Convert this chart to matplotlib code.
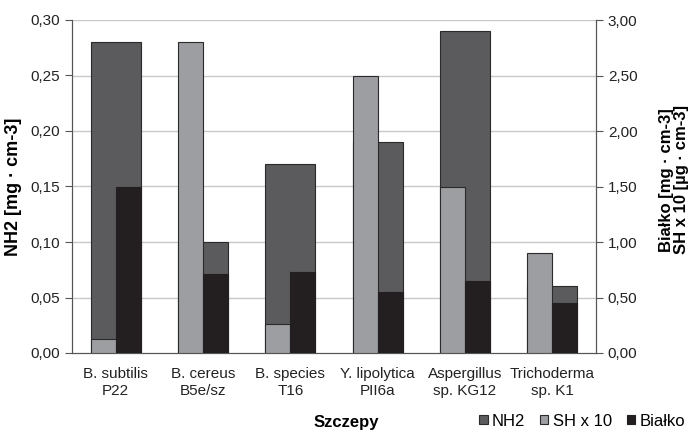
import matplotlib
matplotlib.use("Agg")
import matplotlib.pyplot as plt
import numpy as np
from matplotlib.ticker import FuncFormatter, MultipleLocator

plt.rcParams['font.family'] = ['Liberation Sans', 'DejaVu Sans']

categories = ["B. subtilis\nP22", "B. cereus\nB5e/sz", "B. species\nT16",
              "Y. lipolytica\nPII6a", "Aspergillus\nsp. KG12", "Trichoderma\nsp. K1"]
nh2 = [0.28, 0.10, 0.17, 0.19, 0.29, 0.06]
sh_x10 = [0.13, 2.80, 0.26, 2.50, 1.50, 0.90]
bialko = [1.50, 0.71, 0.73, 0.55, 0.65, 0.45]

c_nh2 = "#5b5b5d"
c_sh = "#9d9ea1"
c_bi = "#231f20"
edge = "#2a2a2a"

fig = plt.figure(figsize=(6.93, 4.32), dpi=100)
ax = fig.add_axes([72/693, 1-353/432, (596-72)/693, (353-20)/432])
ax2 = ax.twinx()

x = np.arange(len(categories))
w = 0.57
ax.set_zorder(1)
ax.patch.set_visible(False)
ax2.set_zorder(0)

ax2.set_ylim(0, 3.0)
ax.set_ylim(0, 0.30)
ax.bar(x, nh2, width=w, color=c_nh2, edgecolor=edge, linewidth=0.8, zorder=2, label="NH2")
ax.bar(x - w/4, np.array(sh_x10)/10, width=w/2, color=c_sh, edgecolor=edge, linewidth=0.8, zorder=3, label="SH x 10")
ax.bar(x + w/4, np.array(bialko)/10, width=w/2, color=c_bi, edgecolor=c_bi, linewidth=0.8, zorder=3, label="Białko")

ax.set_xlim(-0.5, len(categories) - 0.5)
ax.yaxis.set_major_locator(MultipleLocator(0.05))
ax2.yaxis.set_major_locator(MultipleLocator(0.5))
fmt = FuncFormatter(lambda v, p: f"{v:.2f}".replace(".", ","))
ax.yaxis.set_major_formatter(fmt)
ax2.yaxis.set_major_formatter(fmt)

for v in np.arange(0.05, 0.31, 0.05):
    ax.axhline(v, color="#c8c8c8", linewidth=1.0, zorder=0)

ax.set_xticks(x)
ax.set_xticklabels(categories, fontsize=11, color="#222222", linespacing=1.3)
ax.tick_params(axis='x', length=0, pad=10)
ax.tick_params(axis='y', labelsize=11, colors="#222222", length=5, width=0.8, color="#555555")
ax2.tick_params(axis='y', labelsize=11, colors="#222222", length=5, width=0.8, color="#555555")

for a in (ax, ax2):
    a.spines['top'].set_visible(False)
    for s in ('left', 'right', 'bottom'):
        a.spines[s].set_color("#555555")
        a.spines[s].set_linewidth(0.8)

ax.set_ylabel("NH2 [mg · cm-3]", fontsize=13, fontweight='bold', va='center')
ax.yaxis.set_label_coords((14-72)/524, 0.5)
ax2.set_ylabel("Białko [mg · cm-3]\nSH x 10 [µg · cm-3]", fontsize=12, fontweight='bold',
               rotation=90, linespacing=1.0, va='center', ha='center')
ax2.yaxis.set_label_coords((674-72)/524, 0.52)

fig.text(346/693, 1-422/432, "Szczepy", ha='center', va='center', fontsize=12, fontweight='bold')

leg = ax.legend(loc='center', bbox_to_anchor=(582/693, 1-421/432), bbox_transform=fig.transFigure,
                ncol=3, frameon=False, fontsize=12, handlelength=0.5, handleheight=0.5,
                handletextpad=0.25, columnspacing=0.9, borderpad=0)

fig.savefig("out.png", dpi=100)
